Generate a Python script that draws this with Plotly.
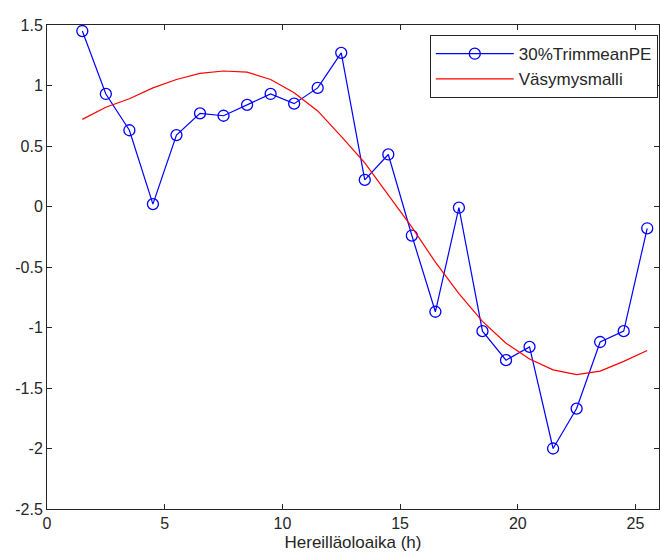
import plotly.graph_objects as go

hours = [1.5, 2.5, 3.5, 4.5, 5.5, 6.5, 7.5, 8.5, 9.5, 10.5, 11.5, 12.5, 13.5,
         14.5, 15.5, 16.5, 17.5, 18.5, 19.5, 20.5, 21.5, 22.5, 23.5, 24.5, 25.5]
trimmean_pe = [1.45, 0.93, 0.63, 0.02, 0.59, 0.77, 0.75, 0.84, 0.93, 0.85, 0.98, 1.27, 0.22,
               0.43, -0.24, -0.87, -0.01, -1.03, -1.27, -1.16, -2.0, -1.67, -1.12, -1.03, -0.18]
vasymysmalli = [0.72, 0.82, 0.89, 0.98, 1.05, 1.10, 1.12, 1.11, 1.05, 0.94, 0.79, 0.58, 0.36,
                0.09, -0.17, -0.46, -0.72, -0.95, -1.13, -1.26, -1.35, -1.39, -1.36, -1.28, -1.19]

x_ticks = [0, 5, 10, 15, 20, 25]
y_ticks = [-2.5, -2, -1.5, -1, -0.5, 0, 0.5, 1, 1.5]
y_tick_text = ["-2.5", "-2", "-1.5", "-1", "-0.5", "0", "0.5", "1", "1.5"]

fig = go.Figure()
fig.add_trace(go.Scatter(
    x=hours, y=trimmean_pe, mode="lines+markers", name="30%TrimmeanPE",
    line=dict(color="#0000ff", width=1.2),
    marker=dict(symbol="circle-open", size=11, color="#0000ff", line=dict(width=1.3)),
))
fig.add_trace(go.Scatter(
    x=hours, y=vasymysmalli, mode="lines", name="Väsymysmalli",
    line=dict(color="#ff0000", width=1.2),
))

axis_common = dict(
    showgrid=False, zeroline=False, showline=True, linecolor="#262626", linewidth=1,
    mirror="ticks", ticks="inside", ticklen=5, tickcolor="#262626",
    tickfont=dict(family="Liberation Sans, Arial, sans-serif", size=16, color="#262626"),
)

fig.update_layout(
    width=660, height=557,
    margin=dict(l=47, r=1, t=25, b=48),
    paper_bgcolor="white", plot_bgcolor="white",
    font=dict(family="Liberation Sans, Arial, sans-serif", size=16, color="#262626"),
    xaxis=dict(range=[0, 26], tickvals=x_ticks, title=dict(text="Hereilläoloaika (h)", standoff=4,
               font=dict(size=17)), **axis_common),
    yaxis=dict(range=[-2.5, 1.5], tickvals=y_ticks, ticktext=y_tick_text, **axis_common),
    legend=dict(
        x=0.998, y=0.979, xanchor="right", yanchor="top",
        bgcolor="white", bordercolor="#262626", borderwidth=1,
        font=dict(size=17, color="#262626"),
        itemwidth=78, tracegroupgap=0,
    ),
    showlegend=True,
)

fig.write_html(
    "out.html",
    config={"displayModeBar": False},
    post_script="document.body.style.margin='0';document.body.style.overflow='hidden';",
)
